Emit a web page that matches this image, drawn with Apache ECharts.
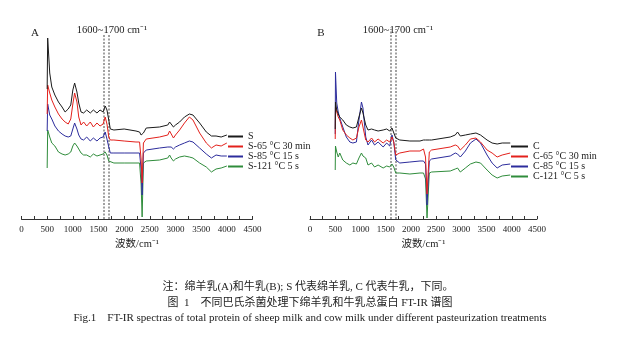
<!DOCTYPE html>
<html>
<head>
<meta charset="utf-8">
<script src="https://cdn.jsdelivr.net/npm/echarts@6/dist/echarts.min.js"></script>
<style>
html,body{margin:0;padding:0;background:#fff;}
#chart{width:631px;height:337px;}
</style>
</head>
<body>
<div id="chart"></div>
<script>
// ---------- DATA (wavenumber in cm-1, y = relative transmittance, arbitrary units) ----------
const wnA = [500, 510, 550, 590, 650, 720, 790, 850, 910, 960,
  1000, 1035, 1080, 1115, 1160, 1210, 1270, 1340, 1400, 1470,
  1530, 1590, 1630, 1665, 1700, 1730, 1800, 2000, 2230, 2300,
  2330, 2350, 2375, 2430, 2690, 2850, 2885, 2915, 2960, 3000,
  3080, 3175, 3270, 3340, 3470, 3600, 3700, 3790, 3890, 4000];
const sheepS = [130, 181, 146, 132, 124, 117, 112, 107, 110, 114,
  129, 136, 127, 116, 107, 106, 109, 106, 109, 106,
  109, 107, 113, 109, 99, 90, 89, 90, 88, 87,
  84, 82, 86, 91, 92, 94, 97, 96, 92, 94,
  97, 102, 105, 104, 96, 87, 83, 83, 82, 84];
const sheep65 = [105, 134, 126, 119, 112, 105, 100, 97, 95, 100,
  115, 126, 117, 102, 94, 97, 93, 97, 92, 96,
  93, 95, 102, 95, 82, 79, 79, 78, 77, 77,
  60, 36, 76, 80, 82, 84, 88, 86, 81, 84,
  89, 96, 102, 99, 86, 76, 71, 74, 73, 76];
const sheep85 = [88, 115, 104, 100, 93, 88, 85, 83, 82, 83,
  90, 96, 90, 84, 80, 79, 82, 78, 81, 78,
  81, 82, 87, 80, 72, 66, 66, 66, 66, 66,
  50, 24, 66, 69, 71, 72, 74, 72, 70, 72,
  74, 76, 78, 77, 71, 65, 61, 64, 63, 63];
const sheep121 = [51, 89, 82, 76, 73, 67, 65, 64, 65, 67,
  73, 76, 73, 70, 66, 64, 64, 62, 65, 63,
  64, 65, 67, 64, 58, 56, 56, 56, 56, 56,
  35, 2, 56, 58, 59, 61, 64, 61, 58, 60,
  62, 63, 62, 61, 56, 52, 47, 50, 51, 53];

const wnB = [500, 505, 530, 560, 590, 650, 720, 790, 850, 920,
  970, 1020, 1050, 1105, 1150, 1220, 1280, 1350, 1450, 1520,
  1580, 1625, 1660, 1700, 1780, 1980, 2180, 2250, 2290, 2320,
  2365, 2410, 2780, 2880, 2925, 2980, 3080, 3180, 3290, 3380,
  3510, 3610, 3710, 3810, 3970];
const cowC = [90, 117, 109, 105, 102, 99, 94, 92, 91, 92,
  102, 111, 106, 94, 89, 90, 89, 88, 89, 90,
  88, 91, 89, 81, 79, 78, 78, 79, 79, 81,
  79, 79, 82, 84, 87, 83, 84, 85, 86, 84,
  79, 76, 75, 76, 76];
const cow65 = [80, 112, 107, 102, 99, 89, 84, 81, 79, 81,
  92, 99, 92, 79, 77, 81, 77, 80, 76, 79,
  77, 82, 77, 64, 66, 68, 68, 70, 62, 25,
  67, 69, 72, 74, 73, 69, 74, 80, 81, 77,
  69, 66, 62, 64, 66];
const cow85 = [85, 147, 116, 107, 101, 92, 82, 77, 76, 77,
  99, 117, 111, 82, 74, 79, 74, 77, 72, 76,
  73, 84, 77, 59, 56, 57, 58, 58, 55, 14,
  58, 60, 63, 66, 65, 62, 68, 76, 80, 76,
  64, 56, 51, 54, 55];
const cow121 = [49, 73, 67, 62, 66, 59, 56, 54, 56, 55,
  61, 66, 63, 61, 54, 56, 52, 54, 51, 53,
  52, 55, 52, 46, 46, 45, 46, 46, 40, 1,
  46, 47, 48, 50, 51, 47, 51, 55, 57, 56,
  49, 44, 41, 43, 44];

const namesA = ['S', 'S-65 °C 30 min', 'S-85 °C 15 s', 'S-121 °C 5 s'];
const namesB = ['C', 'C-65 °C 30 min', 'C-85 °C 15 s', 'C-121 °C 5 s'];
const bandMarks = [1600, 1700];
const bandLabel = '1600~1700 cm⁻¹';
const axisTitle = '波数/cm⁻¹';
const panelLetters = ['A', 'B'];
const noteLines = [
  '注：绵羊乳(A)和牛乳(B); S 代表绵羊乳, C 代表牛乳，下同。',
  '图  1　不同巴氏杀菌处理下绵羊乳和牛乳总蛋白 FT-IR 谱图',
  'Fig.1　FT-IR spectras of total protein of sheep milk and cow milk under different pasteurization treatments'
];

// ---------- STYLE ----------
const FONT = '"Liberation Serif", "Noto Sans CJK SC", serif';
const colors = ['#1b1b1b', '#e3211c', '#2c2c9c', '#2f8c3b'];
const grids = [
  {left: 21.5, top: 19, width: 231, height: 200},
  {left: 310, top: 19, width: 227, height: 200}
];

function pairs(xs, ys) { return xs.map((x, i) => [x, ys[i]]); }

const panels = [
  {wn: wnA, sets: [sheepS, sheep65, sheep85, sheep121], names: namesA, markTop: 185},
  {wn: wnB, sets: [cowC, cow65, cow85, cow121], names: namesB, markTop: 190}
];

const series = [];
panels.forEach((p, pi) => {
  p.sets.forEach((vals, si) => {
    const s = {
      type: 'line', name: p.names[si], xAxisIndex: pi, yAxisIndex: pi,
      data: pairs(p.wn, vals), symbol: 'none', showSymbol: false,
      lineStyle: {width: 1, color: colors[si]}, itemStyle: {color: colors[si]},
      z: 10 - si, silent: true, animation: false
    };
    if (si === 0) {
      s.markLine = {
        silent: true, symbol: 'none', animation: false,
        label: {show: false},
        lineStyle: {type: [2, 1.5], color: '#8a8a8a', width: 1.6},
        data: bandMarks.map(b => [{coord: [b, 0]}, {coord: [b, p.markTop]}])
      };
    }
    series.push(s);
  });
});

const xAxes = grids.map((g, i) => ({
  type: 'value', gridIndex: i, min: 0, max: 4500, interval: 500,
  axisLine: {onZero: false, lineStyle: {color: '#333', width: 1}},
  axisTick: {show: true, inside: true, length: 3, lineStyle: {color: '#333'}},
  minorTick: {show: true, splitNumber: 2, length: 3, lineStyle: {color: '#333'}},
  splitLine: {show: false}, minorSplitLine: {show: false},
  axisLabel: {fontFamily: FONT, fontSize: 9, color: '#222', margin: 6, formatter: v => String(v)},
  name: axisTitle, nameLocation: 'middle', nameGap: 20,
  nameTextStyle: {fontFamily: FONT, fontSize: 10.5, color: '#222'}
}));
const yAxes = grids.map((g, i) => ({type: 'value', gridIndex: i, min: 0, max: 200, show: false}));

function legend(names, left, top, w, step) {
  return {
    data: names, orient: 'vertical', left: left, top: top, padding: 0,
    itemWidth: w, itemHeight: 2, itemGap: 0, icon: 'rect', selectedMode: false,
    textStyle: {fontFamily: FONT, fontSize: 10, lineHeight: step, color: '#222'}
  };
}

function txt(text, x, y, size, weight) {
  return {
    type: 'text', x: x, y: y, silent: true,
    style: {
      text: text, fill: '#222', font: (weight || 'normal') + ' ' + size + 'px ' + FONT,
      align: 'center', verticalAlign: 'middle', textAlign: 'center', textVerticalAlign: 'middle'
    }
  };
}

const graphics = [
  txt(panelLetters[0], 35, 33, 11),
  txt(panelLetters[1], 321, 33, 11),
  txt(bandLabel, 112, 30, 10.5),
  txt(bandLabel, 398, 30, 10.5),
  txt(noteLines[0], 308, 287, 11),
  txt(noteLines[1], 310, 303, 11),
  txt(noteLines[2], 310, 318, 11)
];

const chart = echarts.init(document.getElementById('chart'), null, {renderer: 'canvas'});
chart.setOption({
  animation: false,
  backgroundColor: '#ffffff',
  grid: grids,
  xAxis: xAxes,
  yAxis: yAxes,
  legend: [legend(namesA, 228, 131.5, 15, 9.5), legend(namesB, 511, 141.5, 17, 9)],
  series: series,
  graphic: graphics
});
</script>
</body>
</html>
